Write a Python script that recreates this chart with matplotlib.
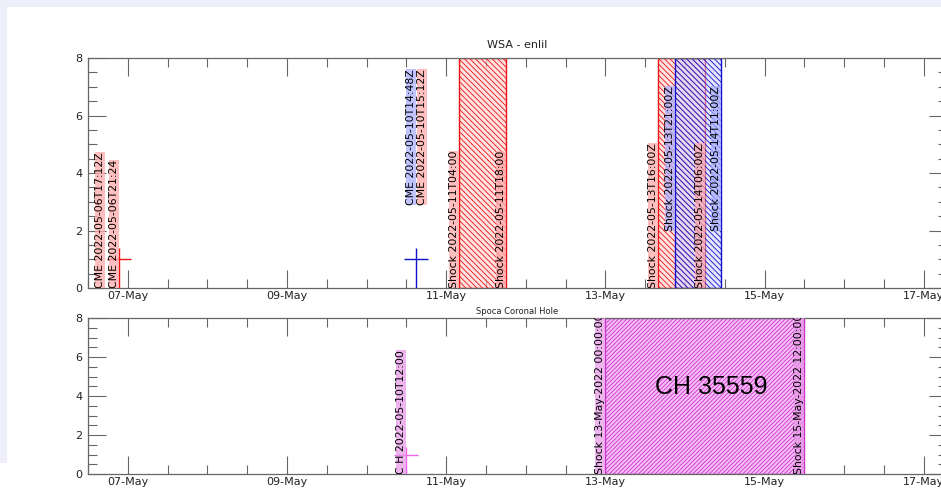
import datetime as dt
import matplotlib
matplotlib.use('Agg')
import matplotlib.pyplot as plt
import matplotlib.dates as mdates
from matplotlib.patches import Rectangle

# ---- data ----
cme_times = ['2022-05-06T17:12', '2022-05-06T21:24', '2022-05-10T14:48', '2022-05-10T15:12']
cme_labels = ['CME 2022-05-06T17:12Z', 'CME 2022-05-06T21:24',
              'CME 2022-05-10T14:48Z', 'CME 2022-05-10T15:12Z']
cme_kind = ['red', 'red', 'blue', 'red']
cme_label_y = [0, 0, 2.9, 2.9]
cme_align = ['right', 'right', 'right', 'left']

shock_start = ['2022-05-11T04:00', '2022-05-13T16:00', '2022-05-13T21:00']
shock_end = ['2022-05-11T18:00', '2022-05-14T06:00', '2022-05-14T11:00']
shock_start_lbl = ['Shock 2022-05-11T04:00', 'Shock 2022-05-13T16:00Z', 'Shock 2022-05-13T21:00Z']
shock_end_lbl = ['Shock 2022-05-11T18:00', 'Shock 2022-05-14T06:00Z', 'Shock 2022-05-14T11:00Z']
shock_kind = ['red', 'red', 'blue']
shock_label_y = [0, 0, 2]

cross_times = ['2022-05-06T21:24', '2022-05-10T14:48']
cross_kind = ['red', 'blue']
cross_y = 1.0

ch_time = '2022-05-10T12:00'
ch_label = 'C H 2022-05-10T12:00'
ch_start = '2022-05-13T00:00'
ch_end = '2022-05-15T12:00'
ch_start_lbl = 'Shock 13-May-2022 00:00:00'
ch_end_lbl = 'Shock 15-May-2022 12:00:00'
ch_name = 'CH 35559'
ch_name_pos = ('2022-05-14T08:00', 4.45)

xmin, xmax = '2022-05-06T12:00', '2022-05-17T07:00'

# ---- colours ----
line_col = {'red': '#ee1111', 'blue': '#1111cc', 'violet': '#cc33cc'}
box_col = {'red': '#ffaaaa', 'blue': '#aab0ff', 'violet': '#e89be8'}
fill_col = {'red': (1, 0.82, 0.82, 0.6), 'blue': (0.8, 0.8, 1, 0.5), 'violet': (0.97, 0.75, 0.97, 1)}

plt.rcParams['hatch.linewidth'] = 0.6


def d(s):
    return dt.datetime.fromisoformat(s)


def label(ax, x, y, txt, kind, ha='right'):
    ax.text(d(x), y, txt, rotation=90, ha=ha, va='bottom', fontsize=7.8,
            color='black', clip_on=True, zorder=5,
            bbox=dict(boxstyle='square,pad=0.0', fc=box_col[kind], ec='none', alpha=0.75))


def style(ax):
    ax.set_xlim(d(xmin), d(xmax))
    ax.set_ylim(0, 8)
    ax.set_yticks([0, 2, 4, 6, 8])
    ax.yaxis.set_minor_locator(matplotlib.ticker.MultipleLocator(0.5))
    ax.xaxis.set_major_locator(mdates.DayLocator(bymonthday=range(1, 32, 2)))
    ax.xaxis.set_minor_locator(mdates.HourLocator(byhour=[0, 12]))
    ax.xaxis.set_major_formatter(mdates.DateFormatter('%d-%b'))
    ax.tick_params(which='both', direction='in', top=True, right=True,
                   color='#666666', labelsize=8, labelcolor='#222222')
    ax.tick_params(which='major', length=13, width=0.8)
    ax.tick_params(which='minor', length=6.5, width=0.8)
    ax.tick_params(axis='x', pad=2)
    ax.tick_params(axis='y', pad=4)
    for sp in ax.spines.values():
        sp.set_color('#666666')
        sp.set_linewidth(0.9)


fig = plt.figure(figsize=(9.41, 4.90), dpi=100)
fig.patches.append(Rectangle((0, 1 - 7 / 490), 1, 7 / 490, transform=fig.transFigure,
                             fc='#eeeefb', ec='none', zorder=-10))
fig.patches.append(Rectangle((0, 27 / 490), 7 / 941, 1, transform=fig.transFigure,
                             fc='#eeeefb', ec='none', zorder=-10))

ax1 = fig.add_axes([88 / 941, 1 - 288 / 490, 859 / 941, 230 / 490])
ax2 = fig.add_axes([88 / 941, 1 - 474 / 490, 859 / 941, 156 / 490])

# top panel: WSA - enlil
for s, e, k in zip(shock_start, shock_end, shock_kind):
    ax1.axvspan(d(s), d(e), fc=fill_col[k], ec=line_col[k], hatch='\\\\\\\\\\\\',
                lw=1, zorder=2)
for s, e, ls, le, k, y in zip(shock_start, shock_end, shock_start_lbl, shock_end_lbl,
                              shock_kind, shock_label_y):
    label(ax1, s, y, ls, k)
    label(ax1, e, y, le, k)

for t, k in zip(cross_times, cross_kind):
    ax1.errorbar([d(t)], [cross_y], xerr=[[dt.timedelta(hours=3.6)], [dt.timedelta(hours=3.6)]],
                 yerr=[[1.0], [0.4]], color=line_col[k], lw=1, capsize=0, zorder=3)

for t, txt, k, y, ha in zip(cme_times, cme_labels, cme_kind, cme_label_y, cme_align):
    label(ax1, t, y, txt, k, ha)

ax1.set_title('WSA - enlil', fontsize=8, pad=7, color='#222222')
style(ax1)

# bottom panel: Spoca Coronal Hole
ax2.axvspan(d(ch_start), d(ch_end), fc=fill_col['violet'], ec=line_col['violet'],
            hatch='////////', lw=1, zorder=2)
ax2.errorbar([d(ch_time)], [cross_y], xerr=[[dt.timedelta(hours=3.6)], [dt.timedelta(hours=3.6)]],
             yerr=[[1.0], [0.4]], color='#ee66ee', lw=1, capsize=0, zorder=3)
label(ax2, ch_time, 0, ch_label, 'violet')
label(ax2, ch_start, 0, ch_start_lbl, 'violet')
label(ax2, ch_end, 0, ch_end_lbl, 'violet')
ax2.text(d(ch_name_pos[0]), ch_name_pos[1], ch_name, ha='center', va='center',
         fontsize=18, family='Liberation Sans', zorder=6)
ax2.set_title('Spoca Coronal Hole', fontsize=6, pad=3, color='#222222')
style(ax2)

fig.savefig('out.png', dpi=100)
